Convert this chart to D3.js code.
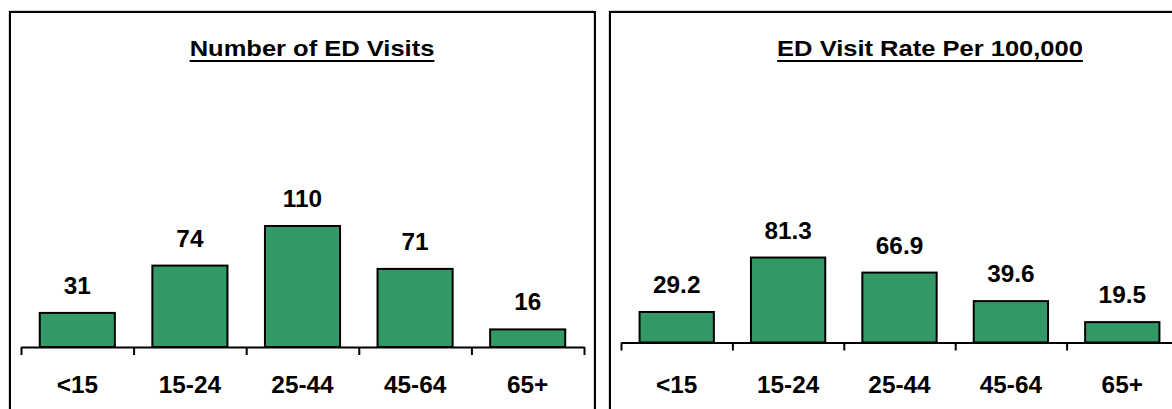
<!DOCTYPE html>
<html>
<head>
<meta charset="utf-8">
<script src="https://cdn.jsdelivr.net/npm/d3@7"></script>
<style>
  html, body { margin: 0; padding: 0; background: #fff; }
  svg { display: block; }
  text { font-family: Arial, "Liberation Sans", sans-serif; font-weight: bold; fill: #000; }
</style>
</head>
<body>
<svg id="chart" width="1172" height="409"></svg>
<script>
// ---- data ----
const categories = ["<15", "15-24", "25-44", "45-64", "65+"];
const visitCounts = [31, 74, 110, 71, 16];
const visitRates = [29.2, 81.3, 66.9, 39.6, 19.5];
const panelTitles = ["Number of ED Visits", "ED Visit Rate Per 100,000"];
const valueFormats = ["d", ".1f"];

// ---- layout ----
const svg = d3.select("#chart");
const FS = 23, SX = 1.06;
const TFS = 22, TSX = 1.16;
const barFill = "#339966";

const panels = [
  { values: visitCounts, title: panelTitles[0], fmt: valueFormats[0],
    box: { x0: 10, y0: 12, x1: 595 }, ax: { x0: 21, x1: 584, y: 347 }, yTop: 127, yMax: 200, titleX: 312 },
  { values: visitRates, title: panelTitles[1], fmt: valueFormats[1],
    box: { x0: 610, y0: 12, x1: 1185 }, ax: { x0: 621, x1: 1178, y: 342.5 }, yTop: 133.5, yMax: 200, titleX: 930 }
];

function stretchedText(g, x, y, str, size, sx) {
  return g.append("text")
    .attr("transform", `translate(${x},${y}) scale(${sx},1)`)
    .attr("text-anchor", "middle")
    .style("font-size", size + "px")
    .text(str);
}

panels.forEach(p => {
  const g = svg.append("g");
  // frame
  g.append("path")
    .attr("d", `M${p.box.x0},420 V${p.box.y0} H${p.box.x1} V420`)
    .attr("fill", "none").attr("stroke", "#d8d8d8").attr("stroke-width", 1)
    .attr("transform", "translate(-1.5,-1.5)");
  g.append("path")
    .attr("d", `M${p.box.x0},420 V${p.box.y0} H${p.box.x1} V420`)
    .attr("fill", "none").attr("stroke", "#000").attr("stroke-width", 2);

  // title with underline
  const t = stretchedText(g, p.titleX, 56, p.title, TFS, TSX);
  const tw = t.node().getComputedTextLength() * TSX;
  g.append("line")
    .attr("x1", p.titleX - tw / 2).attr("x2", p.titleX + tw / 2)
    .attr("y1", 61).attr("y2", 61)
    .attr("stroke", "#000").attr("stroke-width", 2);

  const x = d3.scaleBand().domain(categories).range([p.ax.x0, p.ax.x1])
    .paddingInner(0.333).paddingOuter(0.1667);
  const y = d3.scaleLinear().domain([0, p.yMax]).range([p.ax.y, p.yTop]);

  // bars
  g.selectAll("rect.bar").data(p.values).join("rect")
    .attr("class", "bar")
    .attr("x", (d, i) => x(categories[i]))
    .attr("width", x.bandwidth())
    .attr("y", d => y(d))
    .attr("height", d => y(0) - y(d))
    .attr("fill", barFill)
    .attr("stroke", "#000").attr("stroke-width", 2);

  // axis with ticks between categories
  const edges = d3.scaleLinear().domain([0, categories.length]).range([p.ax.x0, p.ax.x1]);
  const axis = d3.axisBottom(edges)
    .tickValues(d3.range(categories.length + 1))
    .tickFormat("").tickSize(8).tickSizeOuter(0);
  const ag = g.append("g").attr("transform", `translate(0,${p.ax.y})`).call(axis);
  ag.select(".domain").attr("stroke", "#000").attr("stroke-width", 2);
  ag.selectAll(".tick line").attr("stroke", "#000").attr("stroke-width", 2);

  // category labels
  categories.forEach(c => {
    stretchedText(g, x(c) + x.bandwidth() / 2, 393, c, FS, SX);
  });

  // value labels
  const f = d3.format(p.fmt);
  p.values.forEach((v, i) => {
    stretchedText(g, x(categories[i]) + x.bandwidth() / 2, y(v) - 19, f(v), FS, SX);
  });
});
</script>
</body>
</html>
